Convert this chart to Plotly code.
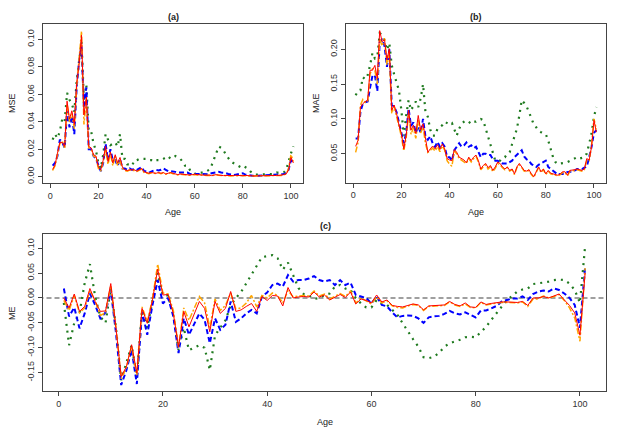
import plotly.graph_objects as go

ages = list(range(1, 102))

# ---------------- (a) MSE ----------------
mse_red = [0.0053, 0.0085, 0.017, 0.025, 0.025, 0.022, 0.055, 0.042, 0.048, 0.038,
           0.068, 0.082, 0.103, 0.045, 0.058, 0.022, 0.021, 0.016, 0.015, 0.007,
           0.005, 0.012, 0.022, 0.011, 0.018, 0.010, 0.016, 0.010, 0.014, 0.007,
           0.005, 0.0045, 0.005, 0.0048, 0.005, 0.004, 0.005, 0.006, 0.0035, 0.003,
           0.0025, 0.003, 0.0028, 0.0025, 0.003, 0.0025, 0.003, 0.002, 0.0025, 0.003,
           0.0025, 0.002, 0.0015, 0.002, 0.0018, 0.0015, 0.0018, 0.0012, 0.0015, 0.0018,
           0.0015, 0.0013, 0.0012, 0.0014, 0.001, 0.0012, 0.0008, 0.0012, 0.0015, 0.0012,
           0.0009, 0.0008, 0.0009, 0.0007, 0.0006, 0.0008, 0.001, 0.0008, 0.0009, 0.0007,
           0.0009, 0.0007, 0.0006, 0.0006, 0.0005, 0.0006, 0.0007, 0.0007, 0.0005, 0.0008,
           0.0008, 0.0009, 0.0009, 0.0009, 0.0009, 0.001, 0.0015, 0.002, 0.005, 0.014,
           0.010]
mse_orange = [0.0045, 0.008, 0.016, 0.024, 0.026, 0.021, 0.053, 0.040, 0.046, 0.035,
              0.066, 0.084, 0.106, 0.038, 0.056, 0.021, 0.020, 0.015, 0.014, 0.006,
              0.004, 0.011, 0.020, 0.009, 0.017, 0.008, 0.015, 0.008, 0.012, 0.006,
              0.0045, 0.004, 0.0048, 0.0045, 0.0045, 0.0038, 0.0048, 0.0055, 0.003, 0.0028,
              0.0022, 0.0028, 0.0025, 0.0022, 0.0028, 0.0022, 0.0028, 0.0018, 0.0022, 0.0028,
              0.0022, 0.0018, 0.0013, 0.0018, 0.0016, 0.0013, 0.0016, 0.001, 0.0013, 0.0016,
              0.0013, 0.0011, 0.001, 0.0012, 0.0009, 0.001, 0.0007, 0.001, 0.0013, 0.001,
              0.0008, 0.0007, 0.0008, 0.0006, 0.0005, 0.0007, 0.0009, 0.0007, 0.0008, 0.0006,
              0.0008, 0.0006, 0.0005, 0.0005, 0.0004, 0.0005, 0.0006, 0.0006, 0.0004, 0.0007,
              0.0007, 0.0008, 0.0008, 0.0008, 0.0008, 0.0009, 0.0014, 0.0019, 0.006, 0.016,
              0.011]
mse_blue = [0.008, 0.010, 0.015, 0.027, 0.025, 0.021, 0.048, 0.036, 0.044, 0.031,
            0.065, 0.085, 0.095, 0.050, 0.065, 0.020, 0.020, 0.015, 0.013, 0.008,
            0.004, 0.010, 0.024, 0.012, 0.020, 0.012, 0.012, 0.008, 0.013, 0.006,
            0.006, 0.005, 0.006, 0.005, 0.006, 0.005, 0.006, 0.007, 0.004, 0.004,
            0.003, 0.004, 0.0045, 0.005, 0.0045, 0.005, 0.006, 0.005, 0.004, 0.004,
            0.004, 0.0035, 0.003, 0.003, 0.003, 0.003, 0.003, 0.002, 0.002, 0.0018,
            0.002, 0.0018, 0.002, 0.002, 0.002, 0.0018, 0.0025, 0.003, 0.003, 0.0035,
            0.003, 0.003, 0.0025, 0.002, 0.0015, 0.0012, 0.0015, 0.002, 0.002, 0.0025,
            0.0015, 0.0012, 0.0012, 0.0008, 0.0005, 0.0007, 0.0008, 0.0009, 0.0007, 0.0008,
            0.0009, 0.001, 0.001, 0.0012, 0.0015, 0.0018, 0.002, 0.0025, 0.005, 0.012,
            0.011]
mse_green = [0.027, 0.031, 0.028, 0.033, 0.042, 0.040, 0.061, 0.056, 0.053, 0.047,
             0.070, 0.085, 0.098, 0.055, 0.067, 0.033, 0.033, 0.024, 0.019, 0.010,
             0.006, 0.016, 0.031, 0.027, 0.023, 0.024, 0.025, 0.022, 0.031, 0.013,
             0.013, 0.009, 0.009, 0.008, 0.012, 0.012, 0.013, 0.013, 0.013, 0.013,
             0.012, 0.012, 0.011, 0.012, 0.012, 0.012, 0.013, 0.014, 0.015, 0.013,
             0.014, 0.015, 0.014, 0.013, 0.011, 0.008, 0.008, 0.005, 0.004, 0.002,
             0.003, 0.003, 0.003, 0.003, 0.004, 0.005, 0.008, 0.013, 0.017, 0.022,
             0.021, 0.019, 0.016, 0.013, 0.011, 0.010, 0.009, 0.008, 0.007, 0.008,
             0.007, 0.006, 0.004, 0.003, 0.0015, 0.0015, 0.0015, 0.0015, 0.0015, 0.0015,
             0.0015, 0.0015, 0.002, 0.003, 0.003, 0.003, 0.003, 0.005, 0.012, 0.017,
             0.022]

# ---------------- (b) MAE ----------------
mae_red = [0.0606, 0.069, 0.117, 0.122, 0.125, 0.127, 0.170, 0.170, 0.177, 0.158,
           0.227, 0.211, 0.214, 0.185, 0.201, 0.1125, 0.120, 0.108, 0.091, 0.079,
           0.057, 0.076, 0.1125, 0.084, 0.091, 0.079, 0.105, 0.084, 0.093, 0.069,
           0.052, 0.057, 0.061, 0.057, 0.063, 0.056, 0.064, 0.057, 0.043, 0.041,
           0.040, 0.056, 0.052, 0.045, 0.043, 0.041, 0.037, 0.045, 0.040, 0.045,
           0.048, 0.040, 0.028, 0.033, 0.036, 0.030, 0.033, 0.026, 0.031, 0.038,
           0.036, 0.031, 0.028, 0.031, 0.026, 0.028, 0.021, 0.031, 0.036, 0.031,
           0.026, 0.025, 0.027, 0.021, 0.017, 0.024, 0.031, 0.024, 0.028, 0.021,
           0.026, 0.022, 0.021, 0.020, 0.019, 0.021, 0.024, 0.024, 0.019, 0.026,
           0.026, 0.027, 0.028, 0.027, 0.026, 0.028, 0.043, 0.041, 0.060, 0.098,
           0.081]
mae_orange = [0.052, 0.066, 0.120, 0.128, 0.124, 0.125, 0.165, 0.172, 0.170, 0.150,
              0.215, 0.205, 0.216, 0.178, 0.195, 0.108, 0.118, 0.104, 0.088, 0.075,
              0.054, 0.073, 0.108, 0.078, 0.087, 0.072, 0.100, 0.080, 0.088, 0.065,
              0.052, 0.055, 0.058, 0.054, 0.060, 0.053, 0.061, 0.055, 0.040, 0.035,
              0.032, 0.054, 0.050, 0.043, 0.041, 0.039, 0.036, 0.043, 0.038, 0.043,
              0.046, 0.038, 0.027, 0.031, 0.034, 0.028, 0.031, 0.024, 0.029, 0.036,
              0.034, 0.030, 0.027, 0.030, 0.025, 0.027, 0.020, 0.030, 0.034, 0.030,
              0.025, 0.024, 0.026, 0.020, 0.016, 0.023, 0.030, 0.023, 0.027, 0.020,
              0.025, 0.021, 0.020, 0.019, 0.018, 0.020, 0.023, 0.023, 0.018, 0.025,
              0.025, 0.026, 0.027, 0.026, 0.025, 0.027, 0.040, 0.040, 0.062, 0.100,
              0.085]
mae_blue = [0.072, 0.072, 0.110, 0.122, 0.124, 0.125, 0.145, 0.162, 0.163, 0.140,
            0.210, 0.215, 0.205, 0.175, 0.200, 0.120, 0.118, 0.110, 0.095, 0.080,
            0.065, 0.080, 0.115, 0.090, 0.095, 0.080, 0.090, 0.080, 0.100, 0.075,
            0.070, 0.075, 0.065, 0.060, 0.067, 0.060, 0.065, 0.060, 0.045, 0.045,
            0.040, 0.055, 0.060, 0.065, 0.060, 0.062, 0.066, 0.060, 0.062, 0.058,
            0.060, 0.052, 0.045, 0.050, 0.050, 0.048, 0.048, 0.042, 0.040, 0.040,
            0.038, 0.036, 0.036, 0.036, 0.038, 0.040, 0.045, 0.048, 0.052, 0.055,
            0.046, 0.042, 0.040, 0.035, 0.033, 0.031, 0.034, 0.036, 0.038, 0.040,
            0.031, 0.028, 0.026, 0.023, 0.020, 0.021, 0.021, 0.023, 0.024, 0.024,
            0.024, 0.026, 0.028, 0.028, 0.028, 0.030, 0.031, 0.045, 0.060, 0.080,
            0.084]
mae_green = [0.134, 0.140, 0.141, 0.160, 0.157, 0.163, 0.177, 0.195, 0.187, 0.189,
             0.223, 0.221, 0.213, 0.199, 0.209, 0.177, 0.164, 0.153, 0.141, 0.1125,
             0.076, 0.105, 0.127, 0.1125, 0.118, 0.125, 0.117, 0.129, 0.150, 0.110,
             0.103, 0.0846, 0.076, 0.076, 0.086, 0.088, 0.091, 0.096, 0.094, 0.092,
             0.094, 0.086, 0.076, 0.086, 0.093, 0.096, 0.098, 0.096, 0.093, 0.096,
             0.096, 0.098, 0.100, 0.098, 0.086, 0.076, 0.064, 0.050, 0.040, 0.040,
             0.040, 0.044, 0.045, 0.050, 0.052, 0.064, 0.075, 0.086, 0.105, 0.127,
             0.123, 0.118, 0.110, 0.100, 0.092, 0.088, 0.083, 0.081, 0.080, 0.078,
             0.069, 0.057, 0.045, 0.038, 0.035, 0.036, 0.036, 0.037, 0.038, 0.040,
             0.041, 0.043, 0.045, 0.043, 0.044, 0.045, 0.050, 0.064, 0.079, 0.103,
             0.117]

# ---------------- (c) ME ----------------
me_red = [0.0, -0.02, 0.008, -0.027, -0.017, 0.019, -0.007, -0.027, -0.026, 0.029,
          -0.06, -0.158, -0.138, -0.094, -0.151, -0.021, -0.051, -0.004, 0.058, 0.006,
          0.007, -0.031, -0.098, -0.027, -0.058, -0.031, -0.007, -0.021, -0.068, -0.007,
          -0.031, -0.021, 0.013, -0.027, -0.024, -0.017, -0.011, -0.027, 0.003, -0.005,
          0.005, 0.004, -0.016, 0.021, 0.0, 0.002, 0.003, 0.002, 0.012, 0.002,
          0.006, -0.004, 0.001, 0.007, 0.001, 0.012, -0.012, -0.002, -0.005, -0.010,
          0.006, -0.008, -0.004, -0.015, -0.017, -0.018, -0.015, -0.012, -0.014, -0.024,
          -0.016, -0.015, -0.015, -0.014, -0.007, -0.013, -0.016, -0.010, -0.018, -0.019,
          -0.008, -0.013, -0.011, -0.009, -0.008, -0.008, -0.008, -0.009, -0.007, -0.015,
          0.0, 0.0, 0.003, 0.0, 0.004, 0.008, -0.004, -0.015, -0.030, -0.075,
          0.050]
me_orange = [-0.005, -0.025, 0.005, -0.03, -0.02, 0.015, -0.005, -0.035, -0.03, 0.025,
             -0.06, -0.162, -0.14, -0.097, -0.155, -0.018, -0.048, -0.002, 0.068, 0.01,
             0.008, -0.025, -0.1, -0.02, -0.045, -0.02, 0.003, -0.01, -0.06, -0.002,
             -0.025, -0.015, 0.01, -0.022, -0.02, -0.01, 0.005, -0.018, 0.005, 0.0,
             0.01, 0.005, -0.01, 0.015, 0.002, 0.004, 0.005, 0.004, 0.014, 0.004,
             0.008, -0.002, 0.003, 0.009, 0.003, 0.014, -0.01, 0.0, -0.006, -0.012,
             0.002, -0.01, -0.006, -0.016, -0.019, -0.02, -0.016, -0.013, -0.015, -0.025,
             -0.017, -0.016, -0.016, -0.015, -0.008, -0.014, -0.017, -0.012, -0.019, -0.02,
             -0.009, -0.014, -0.012, -0.01, -0.009, -0.009, -0.009, -0.01, -0.008, -0.017,
             -0.002, -0.002, 0.004, 0.0, 0.003, 0.007, -0.005, -0.02, -0.04, -0.087,
             0.06]
me_blue = [0.019, -0.037, -0.019, -0.061, -0.031, 0.009, -0.014, -0.041, -0.029, 0.016,
           -0.07, -0.175, -0.145, -0.104, -0.173, -0.027, -0.074, -0.014, 0.036, -0.011,
           0.0, -0.037, -0.111, -0.041, -0.074, -0.054, -0.031, -0.044, -0.091, -0.041,
           -0.064, -0.054, -0.007, -0.048, -0.041, -0.031, -0.024, -0.031, 0.003, 0.011,
           0.026, 0.029, 0.023, 0.046, 0.033, 0.036, 0.036, 0.039, 0.044, 0.036,
           0.033, 0.036, 0.026, 0.036, 0.026, 0.031, 0.006, 0.003, 0.0, -0.011,
           0.003, -0.014, -0.017, -0.029, -0.039, -0.036, -0.035, -0.036, -0.041, -0.05,
           -0.039, -0.037, -0.036, -0.032, -0.026, -0.031, -0.033, -0.029, -0.034, -0.039,
           -0.025, -0.025, -0.021, -0.016, -0.007, -0.004, -0.001, -0.001, 0.003, -0.004,
           0.008, 0.013, 0.015, 0.013, 0.019, 0.016, 0.009, 0.0, -0.014, -0.06,
           0.063]
me_green = [-0.01, -0.095, -0.05, -0.03, 0.03, 0.068, 0.003, -0.038, -0.05, 0.02,
            -0.06, -0.165, -0.13, -0.095, -0.16, -0.025, -0.06, -0.005, 0.05, 0.005,
            0.005, -0.035, -0.105, -0.06, -0.105, -0.10, -0.095, -0.10, -0.145, -0.075,
            -0.06, -0.045, -0.015, 0.0, 0.012, 0.03, 0.048, 0.063, 0.082, 0.084,
            0.086, 0.08, 0.057, 0.071, 0.045, 0.02, 0.008, 0.005, -0.002, 0.0,
            0.006, 0.009, 0.023, 0.026, 0.019, 0.016, 0.0, -0.011, -0.019, -0.019,
            -0.004, -0.011, -0.014, -0.024, -0.034, -0.051, -0.068, -0.083, -0.098, -0.119,
            -0.121, -0.118, -0.11, -0.098, -0.091, -0.088, -0.084, -0.079, -0.078, -0.079,
            -0.068, -0.058, -0.044, -0.031, -0.019, -0.004, 0.004, 0.013, 0.017, 0.019,
            0.028, 0.029, 0.031, 0.033, 0.036, 0.037, 0.036, 0.029, 0.016, -0.01,
            0.105]

x_ticks = [0, 20, 40, 60, 80, 100]
mse_ticks = [0.00, 0.02, 0.04, 0.06, 0.08, 0.10]
mae_ticks = [0.05, 0.10, 0.15, 0.20]
me_ticks = [-0.15, -0.10, -0.05, 0.00, 0.05, 0.10]

# The page body has an 8px margin, so the figure is drawn 8px in from the
# window's top-left corner; all pixel positions below are page positions.
OFF = 8
PAGE_W, PAGE_H = 623, 435
W, H = PAGE_W - OFF, PAGE_H - OFF
FONT = "Liberation Sans, Arial, sans-serif"
GREEN = "#1f7a1f"

STYLES = [
    ("green", GREEN, "2px,5px", 2.2),
    ("blue", "#0000FF", "5px,3px", 2.0),
    ("orange", "#FFA500", "6px,2px,2px,2px", 1.5),
    ("red", "#FF0000", "solid", 1.0),
]

fig = go.Figure()

panels = [
    ("x", "y", {"green": mse_green, "blue": mse_blue, "orange": mse_orange, "red": mse_red}),
    ("x2", "y2", {"green": mae_green, "blue": mae_blue, "orange": mae_orange, "red": mae_red}),
    ("x3", "y3", {"green": me_green, "blue": me_blue, "orange": me_orange, "red": me_red}),
]

for xa, ya, data in panels:
    if xa == "x3":
        fig.add_trace(go.Scatter(x=[-10, 110], y=[0, 0], mode="lines", xaxis=xa, yaxis=ya,
                                 line=dict(color="#808080", width=1.6, dash="5px,3px"),
                                 showlegend=False, hoverinfo="skip"))
    for name, color, dash, width in STYLES:
        fig.add_trace(go.Scatter(x=ages, y=data[name], mode="lines", xaxis=xa, yaxis=ya,
                                 line=dict(color=color, dash=dash, width=width),
                                 showlegend=False, name=name))


def px_dom_x(a, b):
    return [(a - OFF) / W, (b - OFF) / W]


def px_dom_y(top, bottom):
    return [1 - (bottom - OFF) / H, 1 - (top - OFF) / H]


common = dict(showline=True, mirror=True, linecolor="#444444", linewidth=1,
              ticks="outside", ticklen=4, tickcolor="#444444", showgrid=False,
              zeroline=False, tickfont=dict(family=FONT, size=9, color="#333333"))


def fmt(v):
    return f"{v:.2f}"


fig.update_layout(
    width=W, height=H, margin=dict(l=0, r=0, t=0, b=0),
    paper_bgcolor="white", plot_bgcolor="white",
    font=dict(family=FONT, size=9, color="#333333"),
    xaxis=dict(domain=px_dom_x(43, 303), range=[-3, 105], anchor="y",
               tickvals=x_ticks, ticktext=[str(v) for v in x_ticks], **common),
    yaxis=dict(domain=px_dom_y(24, 183), range=[-0.0046, 0.1112], anchor="x",
               tickvals=mse_ticks, ticktext=[fmt(v) for v in mse_ticks], tickangle=-90, **common),
    xaxis2=dict(domain=px_dom_x(346, 606), range=[-3, 105], anchor="y2",
                tickvals=x_ticks, ticktext=[str(v) for v in x_ticks], **common),
    yaxis2=dict(domain=px_dom_y(24, 182.5), range=[0.0086, 0.2365], anchor="x2",
                tickvals=mae_ticks, ticktext=[fmt(v) for v in mae_ticks], tickangle=-90, **common),
    xaxis3=dict(domain=px_dom_x(43, 606), range=[-3, 105], anchor="y3",
                tickvals=x_ticks, ticktext=[str(v) for v in x_ticks], **common),
    yaxis3=dict(domain=px_dom_y(234.3, 391), range=[-0.187, 0.128], anchor="x3",
                tickvals=me_ticks, ticktext=[fmt(v) for v in me_ticks], tickangle=-90, **common),
)


def ann(text, x, y, bold=False, angle=0, size=9):
    fig.add_annotation(text=f"<b>{text}</b>" if bold else text,
                       x=(x - OFF) / W, y=1 - (y - OFF) / H,
                       xref="paper", yref="paper", showarrow=False, textangle=angle,
                       xanchor="center", yanchor="middle",
                       font=dict(family=FONT, size=size, color="#222222"))


ann("(a)", 173, 17, bold=True)
ann("(b)", 476, 17, bold=True)
ann("(c)", 325, 226, bold=True)
ann("Age", 173, 212)
ann("Age", 476, 212)
ann("Age", 325, 422)
ann("MSE", 12, 103, angle=-90)
ann("MAE", 316, 103, angle=-90)
ann("ME", 12, 313, angle=-90)

fig.write_html("out.html")
